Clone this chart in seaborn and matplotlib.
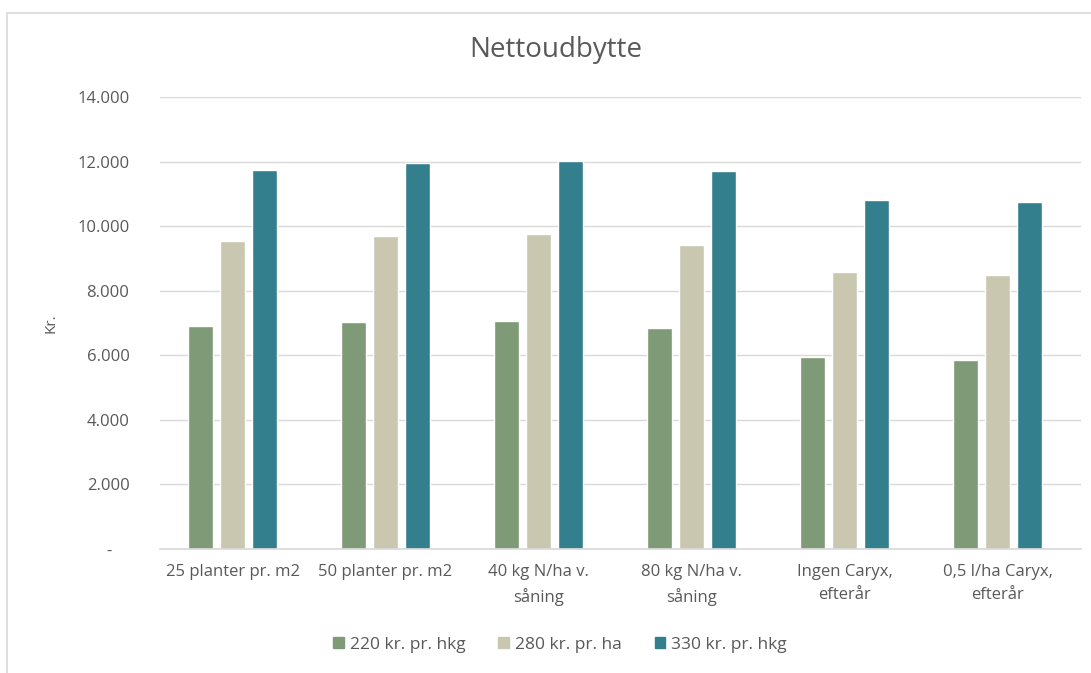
import pandas as pd
import matplotlib
matplotlib.use("Agg")
import matplotlib.pyplot as plt
import matplotlib.patches as mpatches
import seaborn as sns

# Values
categories = ["25 planter pr. m2", "50 planter pr. m2", "40 kg N/ha v.\nsåning",
              "80 kg N/ha v.\nsåning", "Ingen Caryx,\nefterår", "0,5 l/ha Caryx,\nefterår"]
series = ["220 kr. pr. hkg", "280 kr. pr. ha", "330 kr. pr. hkg"]
v220 = [6920, 7020, 7060, 6860, 5950, 5840]
v280 = [9550, 9700, 9760, 9430, 8590, 8480]
v330 = [11750, 11960, 12020, 11700, 10800, 10750]
colors = ["#7F9A76", "#C9C7B0", "#347F8E"]
yticks = [0, 2000, 4000, 6000, 8000, 10000, 12000, 14000]

df = pd.DataFrame({
    "kategori": categories * 3,
    "serie": [s for s in series for _ in categories],
    "kr": v220 + v280 + v330,
})

sns.set_theme(style="white")
plt.rcParams["font.family"] = ["Open Sans", "DejaVu Sans"]
grey = "#595959"

fig = plt.figure(figsize=(10.91, 6.73), dpi=100)
ax = fig.add_axes([160 / 1091, 1 - 549 / 673, 921 / 1091, 452 / 673])

sns.barplot(data=df, x="kategori", y="kr", hue="serie", order=categories,
            hue_order=series, palette=colors, width=0.63, gap=0.24,
            saturation=1, errorbar=None, ax=ax, legend=False)

ax.set_ylim(0, 14000)
ax.set_xlim(-0.474, 5.546)  # grid runs slightly past the last group, like Excel
ax.set_yticks(yticks)
ax.set_yticklabels(["-    "] + [f"{v:,}".replace(",", ".") for v in yticks[1:]])
ax.yaxis.grid(True, color="#D9D9D9", linewidth=1)
ax.set_axisbelow(True)
for s in ["top", "right", "left"]:
    ax.spines[s].set_visible(False)
ax.spines["bottom"].set_color("#D9D9D9")
ax.tick_params(axis="both", length=0, colors=grey, labelsize=12)
ax.tick_params(axis="y", pad=22)
ax.tick_params(axis="x", pad=11)
for lbl in ax.get_xticklabels():
    lbl.set_linespacing(1.55)
ax.set_xlabel("")
ax.set_ylabel("Kr.", color=grey, fontsize=11)
ax.yaxis.set_label_coords((59 - 160) / 921, 0.5)

fig.text(556 / 1091, 1 - 50 / 673, "Nettoudbytte", ha="center", va="center",
         fontsize=20, color=grey)

handles = [mpatches.Patch(color=c, label=s) for c, s in zip(colors, series)]
fig.legend(handles=handles, loc="center", bbox_to_anchor=(560 / 1091, 1 - 645 / 673),
           ncol=3, frameon=False, fontsize=12.5, handlelength=0.6, handleheight=0.6,
           handletextpad=0.35, columnspacing=1.9, labelcolor=grey)

# light outer chart border (only top and left fall inside the picture)
fig.add_artist(mpatches.Rectangle((7 / 1091, -0.1), 1.5, 1.1 - 13 / 673,
                                  transform=fig.transFigure, fill=False,
                                  edgecolor="#D9D9D9", linewidth=1.2))

fig.savefig("out.png", dpi=100, facecolor="white")
